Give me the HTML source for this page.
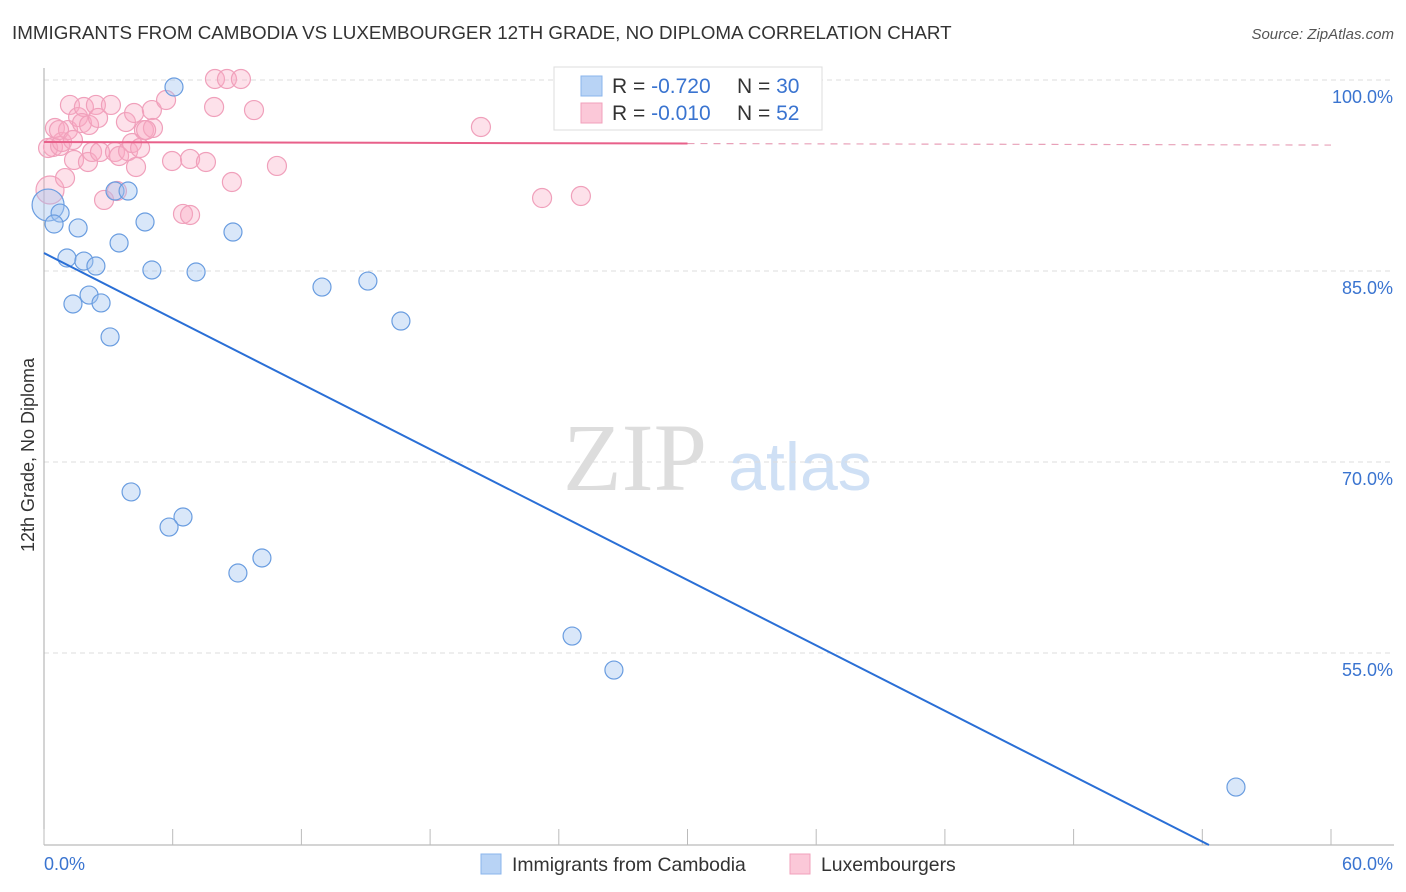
<!DOCTYPE html>
<html><head><meta charset="utf-8"><style>
body{margin:0;background:#fff;font-family:"Liberation Sans",sans-serif;}
#wrap{position:relative;width:1406px;height:892px;overflow:hidden;}
</style></head><body>
<div id="wrap">
<svg id="svg" width="1406" height="892" xmlns="http://www.w3.org/2000/svg">
<text x="12" y="39" font-size="18.8" fill="#333">IMMIGRANTS FROM CAMBODIA VS LUXEMBOURGER 12TH GRADE, NO DIPLOMA CORRELATION CHART</text>
<text x="1394" y="39" font-size="15" fill="#555" font-style="italic" text-anchor="end">Source: ZipAtlas.com</text>
<text x="635" y="490" font-size="96" fill="#ddd" font-family="Liberation Serif,serif" text-anchor="middle">ZIP</text>
<text x="800" y="490" font-size="68" fill="#cfe0f5" text-anchor="middle">atlas</text>
<text transform="translate(34,455) rotate(-90)" font-size="18" fill="#333" text-anchor="middle">12th Grade, No Diploma</text>
<g id="grid"></g><g id="marks"></g>
<g>
<rect x="554" y="67" width="268" height="63" fill="#fff" stroke="#ddd"/>
<rect x="581" y="76" width="21" height="20" fill="#b8d3f5" stroke="#8ab4ec"/>
<rect x="581" y="103" width="21" height="20" fill="#fbc8d8" stroke="#f2a0bb"/>
<text x="612" y="93" font-size="21" fill="#333">R = <tspan fill="#3a74d0">-0.720</tspan><tspan x="737">N = </tspan><tspan fill="#3a74d0">30</tspan></text>
<text x="612" y="120" font-size="21" fill="#333">R = <tspan fill="#3a74d0">-0.010</tspan><tspan x="737">N = </tspan><tspan fill="#3a74d0">52</tspan></text>
</g>
<g>
<rect x="481" y="854" width="20" height="20" fill="#b8d3f5" stroke="#8ab4ec"/>
<text x="512" y="871" font-size="19.4" fill="#333">Immigrants from Cambodia</text>
<rect x="790" y="854" width="20" height="20" fill="#fbc8d8" stroke="#f2a0bb"/>
<text x="821" y="871" font-size="19.4" fill="#333">Luxembourgers</text>
</g>
</svg></div>
<script>
const yTicks=[100,85,70,55];
const xTickLabels=["0.0%","60.0%"];
const blueX=[6.06,0.19,0.75,0.47,1.59,3.31,3.92,4.71,3.50,8.81,1.07,1.86,2.42,5.03,7.09,12.96,15.10,2.10,1.35,2.66,16.64,3.08,4.06,6.48,5.83,10.16,9.04,24.62,26.57,55.57];
const blueY=[99.45,90.18,89.55,88.69,88.38,91.28,91.28,88.85,87.20,88.06,86.02,85.78,85.39,85.08,84.92,83.74,84.21,83.11,82.41,82.49,81.07,79.82,67.65,65.68,64.89,62.46,61.28,56.33,53.66,44.47];
const pinkPx=[[50,190],[53,147],[48,148],[60,146],[62,142],[55,128],[68,130],[70,105],[65,178],[74,160],[78,117],[84,107],[82,123],[89,125],[96,105],[98,118],[88,162],[92,152],[100,152],[104,200],[111,105],[115,152],[117,191],[119,156],[126,122],[128,151],[132,143],[134,113],[136,167],[140,148],[144,130],[152,110],[153,128],[146,130],[166,100],[172,161],[183,214],[190,215],[190,159],[206,162],[215,79],[227,79],[241,79],[214,107],[232,182],[254,110],[277,166],[481,127],[542,198],[581,196],[59,130],[73,140]];
const pinkX=pinkPx.map(p=>+((p[0]-44)/21.45).toFixed(2));
const pinkY=pinkPx.map(p=>+(100-(p[1]-80)/12.733).toFixed(2));
const blueTrend=[86.41,-0.856];
const pinkTrend=[95.13,-0.004];
const X=v=>44+v*21.45, Y=v=>80+(100-v)*12.733;
const NS="http://www.w3.org/2000/svg";
function mk(t,a,p){const e=document.createElementNS(NS,t);for(const k in a)e.setAttribute(k,a[k]);p.appendChild(e);return e;}
const g=document.getElementById('grid'), m=document.getElementById('marks');
yTicks.forEach(v=>{
 const l=mk('line',{x1:44,x2:1394,y1:Y(v),y2:Y(v),stroke:'#ddd','stroke-dasharray':'5,4'},g);
 
 
 const t=mk('text',{x:1393,y:Y(v)+23,'font-size':18,fill:'#3a74d0','text-anchor':'end'},g);t.textContent=v.toFixed(1)+'%';
 
 
});
mk('line',{x1:44,x2:44,y1:68,y2:845,stroke:'#aaa'},g);
mk('line',{x1:44,x2:1394,y1:845,y2:845,stroke:'#aaa'},g);
for(let i=0;i<=10;i++){const x=X(i*6);mk('line',{x1:x,x2:x,y1:829,y2:845,stroke:'#bbb'},g);}
const t0=mk('text',{x:44,y:870,'font-size':18,fill:'#3a74d0'},g);t0.textContent=xTickLabels[0];


const t1=mk('text',{x:1393,y:870,'font-size':18,fill:'#3a74d0','text-anchor':'end'},g);t1.textContent=xTickLabels[1];


pinkX.forEach((x,i)=>{const r=i==0?14:9.5;const c=mk('circle',{cx:X(x),cy:Y(pinkY[i]),r:r,fill:'rgba(248,170,195,0.35)',stroke:'#f0a0bb','stroke-width':1.2},m);
 
 });
blueX.forEach((x,i)=>{const r=i==1?16:9;const c=mk('circle',{cx:X(x),cy:Y(blueY[i]),r:r,fill:'rgba(160,195,240,0.4)',stroke:'#6a9de0','stroke-width':1.2},m);
 
 });
const yMin=39.92;
const bxEnd=(yMin-blueTrend[0])/blueTrend[1];
const bl=mk('line',{x1:X(0),y1:Y(blueTrend[0]),x2:X(bxEnd),y2:Y(yMin),stroke:'#2a6fd6','stroke-width':2},m);


const pl=mk('line',{x1:X(0),y1:Y(pinkTrend[0]),x2:X(30),y2:Y(pinkTrend[0]+pinkTrend[1]*30),stroke:'#e8608a','stroke-width':2},m);


const pd=mk('line',{x1:X(30),y1:Y(pinkTrend[0]+pinkTrend[1]*30),x2:X(60),y2:Y(pinkTrend[0]+pinkTrend[1]*60),stroke:'#e8a0b8','stroke-width':1.2,'stroke-dasharray':'7,6'},m);


</script>
</body></html>
